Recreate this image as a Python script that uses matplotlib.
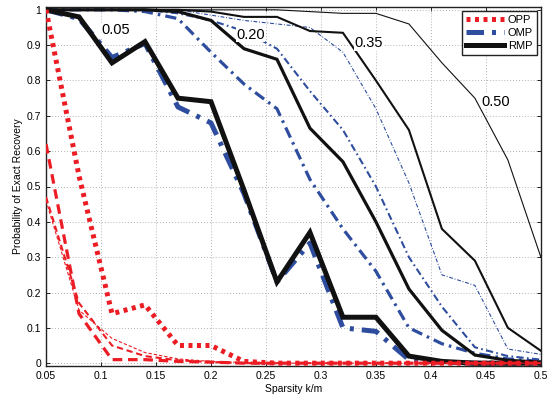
import matplotlib
matplotlib.use("Agg")
import matplotlib.pyplot as plt
import numpy as np

plt.rcParams["font.family"] = ["Liberation Sans", "DejaVu Sans"]

sparsity = [0.05, 0.08, 0.11, 0.14, 0.17, 0.20, 0.23, 0.26,
            0.29, 0.32, 0.35, 0.38, 0.41, 0.44, 0.47, 0.50]

# m/n = 0.05
opp_005 = [1.0, 0.53, 0.14, 0.165, 0.05, 0.05, 0.005, 0.0, 0.0, 0.0, 0.0, 0.0, 0.0, 0.0, 0.0, 0.0]
omp_005 = [1.0, 0.975, 0.865, 0.905, 0.725, 0.68, 0.48, 0.23, 0.34, 0.10, 0.09, 0.01, 0.003, 0.0, 0.0, 0.0]
rmp_005 = [1.0, 0.98, 0.85, 0.91, 0.75, 0.74, 0.49, 0.23, 0.37, 0.13, 0.13, 0.02, 0.005, 0.0, 0.0, 0.0]
# m/n = 0.20
opp_020 = [0.62, 0.14, 0.01, 0.01, 0.005, 0.003, 0.0, 0.0, 0.0, 0.0, 0.0, 0.0, 0.0, 0.0, 0.0, 0.0]
omp_020 = [1.0, 1.0, 1.0, 0.995, 0.975, 0.88, 0.79, 0.72, 0.52, 0.38, 0.26, 0.10, 0.055, 0.028, 0.012, 0.005]
rmp_020 = [1.0, 1.0, 1.0, 1.0, 0.995, 0.97, 0.89, 0.86, 0.665, 0.57, 0.40, 0.21, 0.093, 0.023, 0.008, 0.003]
# m/n = 0.35
opp_035 = [0.47, 0.17, 0.05, 0.02, 0.008, 0.003, 0.0, 0.0, 0.0, 0.0, 0.0, 0.0, 0.0, 0.0, 0.0, 0.0]
omp_035 = [1.0, 1.0, 1.0, 1.0, 0.99, 0.97, 0.94, 0.89, 0.77, 0.66, 0.50, 0.30, 0.16, 0.045, 0.02, 0.01]
rmp_035 = [1.0, 1.0, 1.0, 1.0, 1.0, 0.995, 0.98, 0.98, 0.94, 0.935, 0.80, 0.66, 0.38, 0.29, 0.10, 0.035]
# m/n = 0.50
opp_050 = [0.46, 0.15, 0.07, 0.03, 0.012, 0.005, 0.002, 0.0, 0.0, 0.0, 0.0, 0.0, 0.0, 0.0, 0.0, 0.0]
omp_050 = [1.0, 1.0, 1.0, 1.0, 1.0, 0.985, 0.97, 0.96, 0.95, 0.88, 0.72, 0.51, 0.25, 0.22, 0.04, 0.025]
rmp_050 = [1.0, 1.0, 1.0, 1.0, 1.0, 1.0, 1.0, 1.0, 0.995, 0.99, 0.99, 0.96, 0.85, 0.75, 0.575, 0.30]

ratio_labels = ["0.05", "0.20", "0.35", "0.50"]
label_pos = [(0.113, 0.943), (0.236, 0.93), (0.343, 0.905), (0.459, 0.74)]

RED = "#ec1c24"
BLUE = "#2e4d9e"
BLACK = "#111111"

fig = plt.figure(figsize=(5.48, 4.0), dpi=100)
ax = fig.add_axes([0.084, 0.085, 0.903, 0.8975])

groups = [
    (opp_005, omp_005, rmp_005, 3.6),
    (opp_020, omp_020, rmp_020, 2.3),
    (opp_035, omp_035, rmp_035, 1.5),
    (opp_050, omp_050, rmp_050, 0.8),
]

for i, (opp, omp, rmp, lw) in enumerate(groups):
    if i == 0:
        red_style = (0, (0.8, 0.9))
    else:
        red_style = (0, (3.0, 1.8))
    ax.plot(sparsity, omp, color=BLUE, lw=lw, linestyle=(0, (3.5, 1.6, 0.8, 1.6)),
            zorder=2, label="OMP" if i == 0 else None)
    ax.plot(sparsity, rmp, color=BLACK, lw=lw, linestyle="-", solid_joinstyle="miter",
            zorder=3, label="RMP" if i == 0 else None)
    ax.plot(sparsity, opp, color=RED, lw=lw, linestyle=red_style,
            zorder=4, label="OPP" if i == 0 else None)

for txt, (tx, ty) in zip(ratio_labels, label_pos):
    ax.text(tx, ty, txt, fontsize=10.5, ha="center", va="center", zorder=6,
            bbox=dict(facecolor="white", edgecolor="none", pad=0.3))

ax.set_xlim(0.05, 0.5)
ax.set_ylim(-0.008, 1.008)
ax.set_xticks([0.05, 0.1, 0.15, 0.2, 0.25, 0.3, 0.35, 0.4, 0.45, 0.5])
ax.set_xticklabels(["0.05", "0.1", "0.15", "0.2", "0.25", "0.3", "0.35", "0.4", "0.45", "0.5"])
ax.set_yticks([0, 0.1, 0.2, 0.3, 0.4, 0.5, 0.6, 0.7, 0.8, 0.9, 1.0])
ax.set_yticklabels(["0", "0.1", "0.2", "0.3", "0.4", "0.5", "0.6", "0.7", "0.8", "0.9", "1"])
ax.tick_params(direction="in", length=3, labelsize=7.5, top=True, right=True, width=0.6)
ax.grid(True, color="#999999", linestyle=(0, (1, 2.5)), linewidth=0.6)
for sp in ax.spines.values():
    sp.set_linewidth(1.0)
    sp.set_color("#222222")

ax.set_xlabel("Sparsity k/m", fontsize=7.5, labelpad=2)
ax.set_ylabel("Probability of Exact Recovery", fontsize=7.5, labelpad=3)

handles, labels = ax.get_legend_handles_labels()
order = [labels.index("OPP"), labels.index("OMP"), labels.index("RMP")]
leg = ax.legend([handles[k] for k in order], [labels[k] for k in order],
                loc="upper right", fontsize=8, fancybox=False, framealpha=1,
                edgecolor="#222222", handlelength=3.4, borderaxespad=0.35,
                labelspacing=0.28, handletextpad=0.35, borderpad=0.35)
leg.get_frame().set_linewidth(1.0)
leg.set_zorder(10)

fig.savefig("out.png", dpi=100)
